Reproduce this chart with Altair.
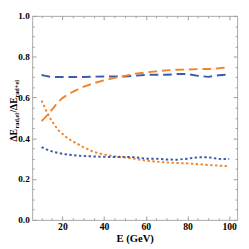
import altair as alt
import pandas as pd

# ---- data ----
E = [10, 12, 14, 16, 18, 20, 22.5, 25, 30, 35, 40, 45, 50, 55, 60, 65, 70, 75, 80, 85, 90, 95, 100]
blue_dashed = [0.710, 0.706, 0.702, 0.700, 0.700, 0.700, 0.700, 0.700, 0.700, 0.702, 0.703, 0.703,
               0.703, 0.707, 0.711, 0.711, 0.711, 0.715, 0.715, 0.706, 0.701, 0.709, 0.713]
orange_dashed = [0.484, 0.505, 0.528, 0.553, 0.578, 0.597, 0.614, 0.628, 0.652, 0.670, 0.684, 0.696,
                 0.706, 0.716, 0.723, 0.728, 0.733, 0.736, 0.737, 0.739, 0.740, 0.743, 0.749]
orange_dotted = [0.585, 0.540, 0.500, 0.468, 0.440, 0.422, 0.400, 0.385, 0.357, 0.333, 0.320, 0.312,
                 0.306, 0.299, 0.290, 0.286, 0.281, 0.279, 0.277, 0.273, 0.269, 0.266, 0.263]
blue_dotted = [0.357, 0.347, 0.339, 0.333, 0.328, 0.324, 0.320, 0.317, 0.313, 0.311, 0.309, 0.308,
               0.309, 0.307, 0.300, 0.300, 0.296, 0.295, 0.300, 0.307, 0.307, 0.299, 0.298]

series_names = ["blue_dashed", "orange_dashed", "orange_dotted", "blue_dotted"]
series_values = [blue_dashed, orange_dashed, orange_dotted, blue_dotted]
series_colors = ["#3b5ca8", "#f0842c", "#f0842c", "#3b5ca8"]
series_dashes = [[9, 5], [9, 5], [2.5, 2.5], [2.5, 2.5]]

x_major = [20, 40, 60, 80, 100]
x_minor = [10, 15, 20, 25, 30, 35, 40, 45, 50, 55, 60, 65, 70, 75, 80, 85, 90, 95, 100]
y_major = [0.0, 0.2, 0.4, 0.6, 0.8, 1.0]
y_minor = [0.0, 0.05, 0.1, 0.15, 0.2, 0.25, 0.3, 0.35, 0.4, 0.45, 0.5, 0.55, 0.6,
           0.65, 0.7, 0.75, 0.8, 0.85, 0.9, 0.95, 1.0]

rows = []
for name, vals in zip(series_names, series_values):
    for e, v in zip(E, vals):
        rows.append({"E": e, "value": v, "series": name})
df = pd.DataFrame(rows)

W, H = 212, 211
FONT = "Liberation Serif"
TICK = "#9a9a9a"

xscale = alt.Scale(domain=[5.5, 103.8], nice=False, zero=False)
yscale = alt.Scale(domain=[0, 1], nice=False)

base = alt.Chart(df)

lines = base.mark_line(strokeWidth=2).encode(
    x=alt.X("E:Q", scale=xscale,
            axis=alt.Axis(values=x_major, ticks=False, domain=False, grid=False,
                          labelFont=FONT, labelFontWeight="bold", labelFontSize=10,
                          labelColor="black", labelPadding=2,
                          title="E (GeV)", titleFont=FONT, titleFontWeight="bold",
                          titleFontSize=11, titleColor="black", titlePadding=1)),
    y=alt.Y("value:Q", scale=yscale,
            axis=alt.Axis(values=y_major, format=".1f", ticks=False, domain=False, grid=False,
                          labelFont=FONT, labelFontWeight="bold", labelFontSize=9.5,
                          labelColor="black", labelPadding=3, title=None)),
    color=alt.Color("series:N", scale=alt.Scale(domain=series_names, range=series_colors), legend=None),
    strokeDash=alt.StrokeDash("series:N", scale=alt.Scale(domain=series_names, range=series_dashes), legend=None),
    detail="series:N",
    order="E:Q",
)

xsize = {"condition": {"test": "datum.value % 20 === 0", "value": 4}, "value": 2}
ysize = {"condition": {"test": "abs(datum.value * 5 - round(datum.value * 5)) < 0.001", "value": 4}, "value": 2}

def xticks(orient):
    return base.mark_line(opacity=0).encode(
        x=alt.X("E:Q", scale=xscale,
                axis=alt.Axis(orient=orient, offset=-H, values=x_minor, labels=False, domain=False,
                              grid=False, title=None, tickColor=TICK, tickSize=xsize)),
        y=alt.Y("value:Q", scale=yscale, axis=None),
        detail="series:N",
    )

def yticks(orient):
    return base.mark_line(opacity=0).encode(
        x=alt.X("E:Q", scale=xscale, axis=None),
        y=alt.Y("value:Q", scale=yscale,
                axis=alt.Axis(orient=orient, offset=-W, values=y_minor, labels=False, domain=False,
                              grid=False, title=None, tickColor=TICK, tickSize=ysize)),
        detail="series:N",
    )

one = alt.Data(values=[{}])
MAIN, SUB = 10, 6.5
y0 = 130
def piece(txt, size, xpos, ypos):
    return alt.Chart(one).mark_text(text=txt, angle=270, align="left", baseline="alphabetic",
                                    font=FONT, fontSize=size, fontWeight="bold", color="black").encode(
        x=alt.value(xpos), y=alt.value(ypos))

t1 = piece("ΔE", MAIN, -16, y0)
t2 = piece("rad,el", SUB, -14, y0 - 13.5)
t3 = piece("/ΔE", MAIN, -16, y0 - 30)
t4 = piece("rad+el", SUB, -14, y0 - 45.5)

chart = alt.layer(
    xticks("top"), xticks("bottom"), yticks("right"), yticks("left"),
    lines, t1, t2, t3, t4,
).resolve_axis(x="independent", y="independent").properties(
    width=W, height=H,
    padding={"left": 25, "top": 4, "right": 4, "bottom": 27},
    autosize=alt.AutoSizeParams(type="none"),
).configure_view(stroke="#a8a8a8", strokeWidth=1)

chart.save("out.html", embed_options={"renderer": "svg", "actions": False})
